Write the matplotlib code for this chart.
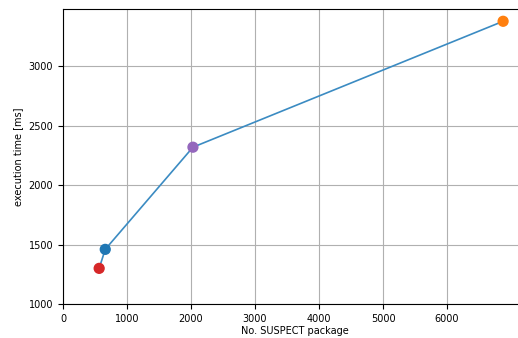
import matplotlib
matplotlib.use("Agg")
import matplotlib.pyplot as plt

# package counts and measured execution times
packages = [565, 660, 2030, 6875]
exec_ms = [1300, 1460, 2320, 3380]
point_colors = ["tab:red", "tab:blue", "tab:purple", "tab:orange"]

fig = plt.figure(figsize=(5.18, 3.38), dpi=100)
ax = fig.add_axes([0.1216, 0.1006, 0.896, 0.873])

ax.plot(packages, exec_ms, color="#3b8bc2", lw=1.2, zorder=2)
ax.scatter(packages, exec_ms, c=point_colors, s=50, zorder=3)

ax.set_xlim(0, 7250)
ax.set_ylim(1000, 3484)
ax.set_xticks(range(0, 7000, 1000))
ax.set_yticks(range(1000, 3001, 500))
ax.grid(True, color="#b0b0b0", lw=0.8)
ax.set_axisbelow(True)

ax.tick_params(labelsize=7)
ax.set_xlabel("No. SUSPECT package", fontsize=7, labelpad=2)
ax.set_ylabel("execution time [ms]", fontsize=7)

fig.savefig("out.png", dpi=100)
